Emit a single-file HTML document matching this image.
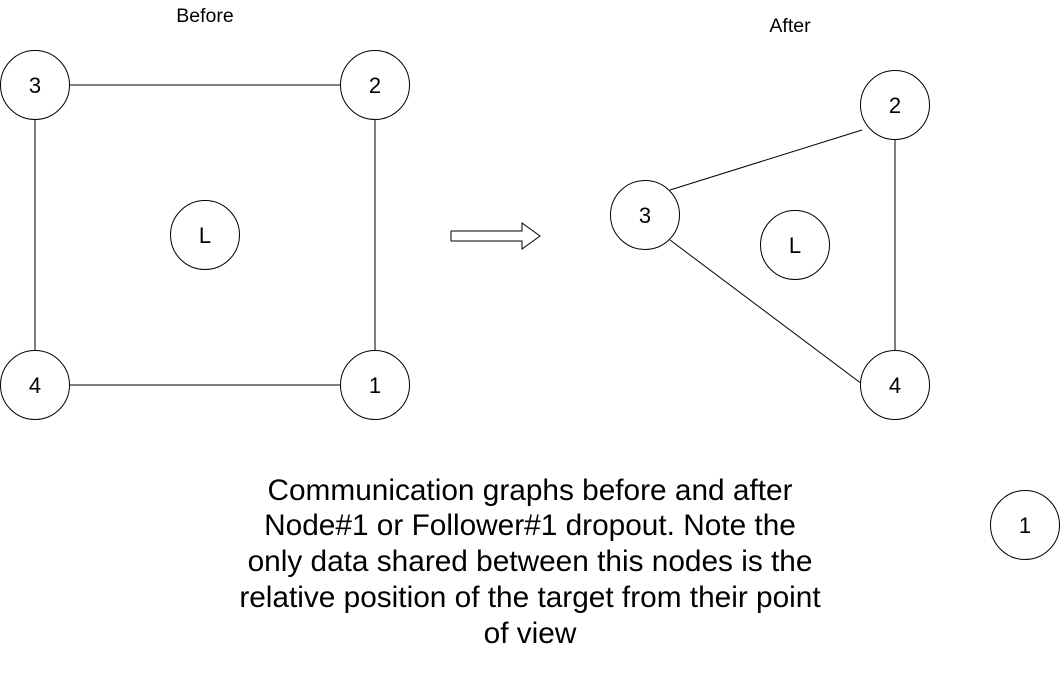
<!DOCTYPE html>
<html><head><meta charset="utf-8">
<style>
html,body{margin:0;padding:0;background:#fff;}
svg{display:block;font-family:"Liberation Sans",Arial,sans-serif;}
</style></head>
<body>
<svg id="d" width="1062" height="680" viewBox="0 0 1062 680">
  <text x="205" y="22" font-size="19.5" text-anchor="middle">Before</text>
  <text x="790" y="32" font-size="19.5" text-anchor="middle">After</text>
  <g stroke="#000" stroke-width="1">
    <line x1="70" y1="85" x2="340" y2="85"/>
    <line x1="35" y1="120" x2="35" y2="350"/>
    <line x1="375" y1="120" x2="375" y2="350"/>
    <line x1="70" y1="385" x2="340" y2="385"/>
    <line x1="895" y1="140" x2="895" y2="350"/>
    <line x1="670" y1="190" x2="862" y2="130"/>
    <line x1="670" y1="240" x2="862" y2="384"/>
  </g>
  <polygon points="451,231 522,231 522,223 540,236 522,249 522,241 451,241" fill="#fff" stroke="#000" stroke-width="1"/>
  <g id="nodes"></g>
  <g font-size="29.8" text-anchor="middle">
    <text x="530" y="500">Communication graphs before and after</text>
    <text x="530" y="535">Node#1 or Follower#1 dropout. Note the</text>
    <text x="530" y="571">only data shared between this nodes is the</text>
    <text x="530" y="607">relative position of the target from their point</text>
    <text x="530" y="643">of view</text>
  </g>
</svg>
<script>
const nodeLabels = ["3","2","4","1","L","2","3","L","4","1"];
const nodeX = [35,375,35,375,205,895,645,795,895,1025];
const nodeY = [85,85,385,385,235,105,215,245,385,525];
const g = document.getElementById('nodes');
const ns = 'http://www.w3.org/2000/svg';
for (let i = 0; i < nodeLabels.length; i++) {
  const grp = document.createElementNS(ns, 'g');
  
  
  const c = document.createElementNS(ns, 'circle');
  c.setAttribute('cx', nodeX[i]); c.setAttribute('cy', nodeY[i]); c.setAttribute('r', 34.5);
  c.setAttribute('fill', '#fff'); c.setAttribute('stroke', '#000'); c.setAttribute('stroke-width', '1');
  
  
  const t = document.createElementNS(ns, 'text');
  t.setAttribute('x', nodeX[i]); t.setAttribute('y', nodeY[i] + 8);
  t.setAttribute('font-size', '22'); t.setAttribute('text-anchor', 'middle');
  t.textContent = nodeLabels[i];
  
  
  grp.appendChild(c); grp.appendChild(t); g.appendChild(grp);
}
</script>
</body></html>
